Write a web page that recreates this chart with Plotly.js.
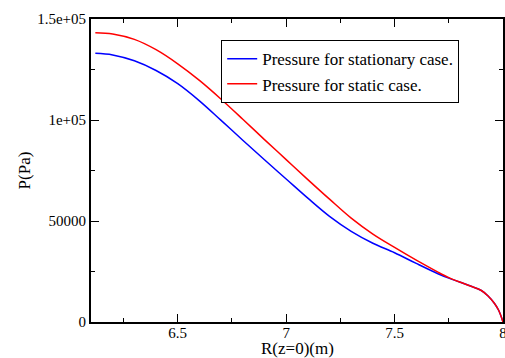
<!DOCTYPE html>
<html>
<head>
<meta charset="utf-8">
<script src="https://cdn.plot.ly/plotly-3.0.1.min.js"></script>
<style>html,body{margin:0;padding:0;background:#fff;}#chart{width:505px;height:358px;}</style>
</head>
<body>
<div id="chart"></div>
<script>
const radius = [6.12, 6.2, 6.3, 6.4, 6.5, 6.6, 6.7, 6.8, 6.9, 7.0, 7.1, 7.2, 7.3, 7.4, 7.5, 7.6, 7.7, 7.75, 7.8, 7.85, 7.9, 7.93, 7.96, 7.98, 8.0];
const pressureStationary = [133000, 132200, 129300, 124500, 118000, 109500, 99800, 90000, 80300, 70800, 61300, 52300, 44900, 39000, 34300, 29000, 23900, 21700, 19800, 17800, 15600, 13000, 9300, 5800, 0];
const pressureStatic = [143200, 142600, 139900, 134800, 127800, 119600, 110300, 100400, 90300, 80400, 70500, 60800, 51400, 43500, 36900, 30600, 24700, 22000, 19800, 17800, 15600, 13000, 9300, 5800, 0];
const seriesNames = ["Pressure for stationary case.", "Pressure for static case."];
const yTickVals = [0, 50000, 100000, 150000];
const yTickText = ["0", "50000", "1e+05", "1.5e+05"];
const xTickVals = [6.5, 7, 7.5, 8];
const xTickText = ["6.5", "7", "7.5", "8"];
const xTitle = "R(z=0)(m)";
const yTitle = "P(Pa)";

const font = "Liberation Serif, serif";
const traces = [
  {x: radius, y: pressureStationary, name: seriesNames[0], mode: "lines", line: {color: "#0000ff", width: 1.5, shape: "spline", smoothing: 1}},
  {x: radius, y: pressureStatic, name: seriesNames[1], mode: "lines", line: {color: "#ff0000", width: 1.5, shape: "spline", smoothing: 1}}
];
const axisCommon = {
  showline: true, linecolor: "#000", linewidth: 2, mirror: "ticks",
  ticks: "inside", ticklen: 8, tickwidth: 1, tickcolor: "#000",
  showgrid: false, zeroline: false, ticklabeloverflow: "allow",
  tickfont: {family: font, size: 15, color: "#000"}
};
const layout = {
  width: 505, height: 358,
  margin: {l: 91, r: 2, t: 19, b: 36},
  paper_bgcolor: "#fff", plot_bgcolor: "#fff",
  font: {family: font, color: "#000"},
  showlegend: true,
  legend: {x: 0.316, y: 0.93, xanchor: "left", yanchor: "top",
    bordercolor: "#000", borderwidth: 1, bgcolor: "#fff",
    font: {family: font, size: 17, color: "#000"}, tracegroupgap: 0},
  xaxis: Object.assign({}, axisCommon, {
    range: [6.1, 8], tickvals: xTickVals, ticktext: xTickText,
    ticklabelstandoff: -4,
    minor: {dtick: 0.25, ticks: "inside", ticklen: 4, tickcolor: "#000", showgrid: false}
  }),
  yaxis: Object.assign({}, axisCommon, {
    range: [0, 150000], tickvals: yTickVals, ticktext: yTickText,
    minor: {dtick: 25000, ticks: "inside", ticklen: 4, tickcolor: "#000", showgrid: false},
    title: {text: yTitle, font: {family: font, size: 17, color: "#000"}, standoff: 2}
  }),
  annotations: [{
    text: xTitle, xref: "paper", yref: "paper", x: 0.5, y: -0.086,
    xanchor: "center", yanchor: "middle", showarrow: false, borderpad: 0,
    font: {family: font, size: 17, color: "#000"}
  }]
};
Plotly.newPlot("chart", traces, layout, {displayModeBar: false, staticPlot: true});
</script>
</body>
</html>
